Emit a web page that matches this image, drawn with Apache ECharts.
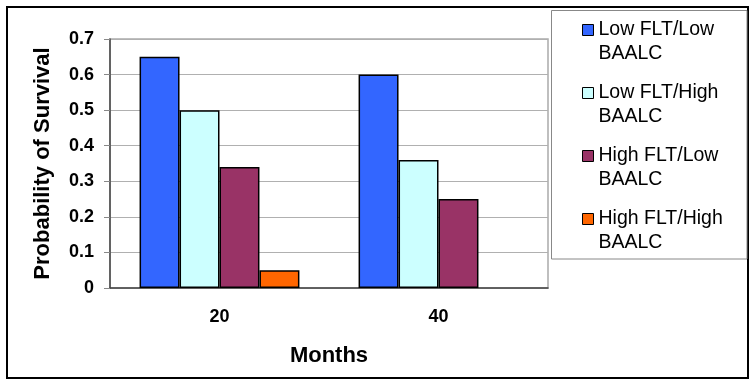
<!DOCTYPE html>
<html>
<head>
<meta charset="utf-8">
<script src="https://cdn.jsdelivr.net/npm/echarts@6/dist/echarts.min.js"></script>
<style>
html, body { margin: 0; padding: 0; background: #fff; }
#chart { width: 755px; height: 386px; }
</style>
</head>
<body>
<div id="chart"></div>
<script>
var months = ['20', '40'];
var seriesNames = ['Low FLT/Low\nBAALC', 'Low FLT/High\nBAALC', 'High FLT/Low\nBAALC', 'High FLT/High\nBAALC'];
var lowFltLowBaalc = [0.65, 0.60];
var lowFltHighBaalc = [0.50, 0.36];
var highFltLowBaalc = [0.34, 0.25];
var highFltHighBaalc = [0.05, null];
var barColors = ['#3366ff', '#ccffff', '#993366', '#ff6600'];

var allValues = [lowFltLowBaalc, lowFltHighBaalc, highFltLowBaalc, highFltHighBaalc];

function makeSeries(i) {
    return {
        name: seriesNames[i],
        type: 'bar',
        barGap: '0%',
        barCategoryGap: '27%',
        itemStyle: {
            color: barColors[i],
            borderColor: '#000',
            borderWidth: 1.5
        },
        data: allValues[i]
    };
}

var option = {
    backgroundColor: '#fff',
    animation: false,
    textStyle: { fontFamily: 'Liberation Sans, Arial, sans-serif' },
    grid: {
        left: 110,
        top: 39,
        right: 207,
        bottom: 98,
        show: true,
        borderColor: '#aaa',
        borderWidth: 1.5
    },
    legend: {
        orient: 'vertical',
        left: 582,
        top: -6,
        padding: 0,
        itemGap: -9,
        itemWidth: 11,
        itemHeight: 11,
        icon: 'rect',
        selectedMode: false,
        itemStyle: { borderColor: '#000', borderWidth: 1 },
        // leading empty line so the first line sits level with the icon
        formatter: function (name) {
            return '\n' + name;
        },
        textStyle: {
            fontSize: 19.5,
            lineHeight: 24,
            color: '#000'
        },
        data: seriesNames
    },
    xAxis: {
        type: 'category',
        data: months,
        name: 'Months',
        nameLocation: 'middle',
        nameGap: 57,
        nameTextStyle: { fontSize: 22, fontWeight: 'bold', color: '#000' },
        axisLine: { lineStyle: { color: '#444', width: 1.5 } },
        axisTick: { length: 6, lineStyle: { color: '#666' } },
        axisLabel: { fontSize: 18, fontWeight: 'bold', color: '#000', margin: 20 }
    },
    yAxis: {
        type: 'value',
        min: 0,
        max: 0.7,
        interval: 0.1,
        name: 'Probability of Survival',
        nameLocation: 'middle',
        nameGap: 56,
        nameTextStyle: { fontSize: 22, fontWeight: 'bold', color: '#000' },
        axisLine: { show: true, lineStyle: { color: '#444', width: 1.5 } },
        axisTick: { show: true, length: 6, lineStyle: { color: '#888' } },
        axisLabel: { fontSize: 18, fontWeight: 'bold', color: '#000', margin: 16 },
        splitLine: { lineStyle: { color: '#b0b0b0', width: 1 } }
    },
    graphic: [
        {
            type: 'rect',
            shape: { x: 7, y: 7, width: 741, height: 371 },
            style: { fill: 'none', stroke: '#000', lineWidth: 2 },
            z: 100
        },
        {
            type: 'rect',
            shape: { x: 551.5, y: 10.5, width: 195.5, height: 248.5 },
            style: { fill: 'none', stroke: '#888', lineWidth: 1 },
            z: 100
        }
    ],
    series: [makeSeries(0), makeSeries(1), makeSeries(2), makeSeries(3)]
};

var chart = echarts.init(document.getElementById('chart'));
chart.setOption(option);
</script>
</body>
</html>
